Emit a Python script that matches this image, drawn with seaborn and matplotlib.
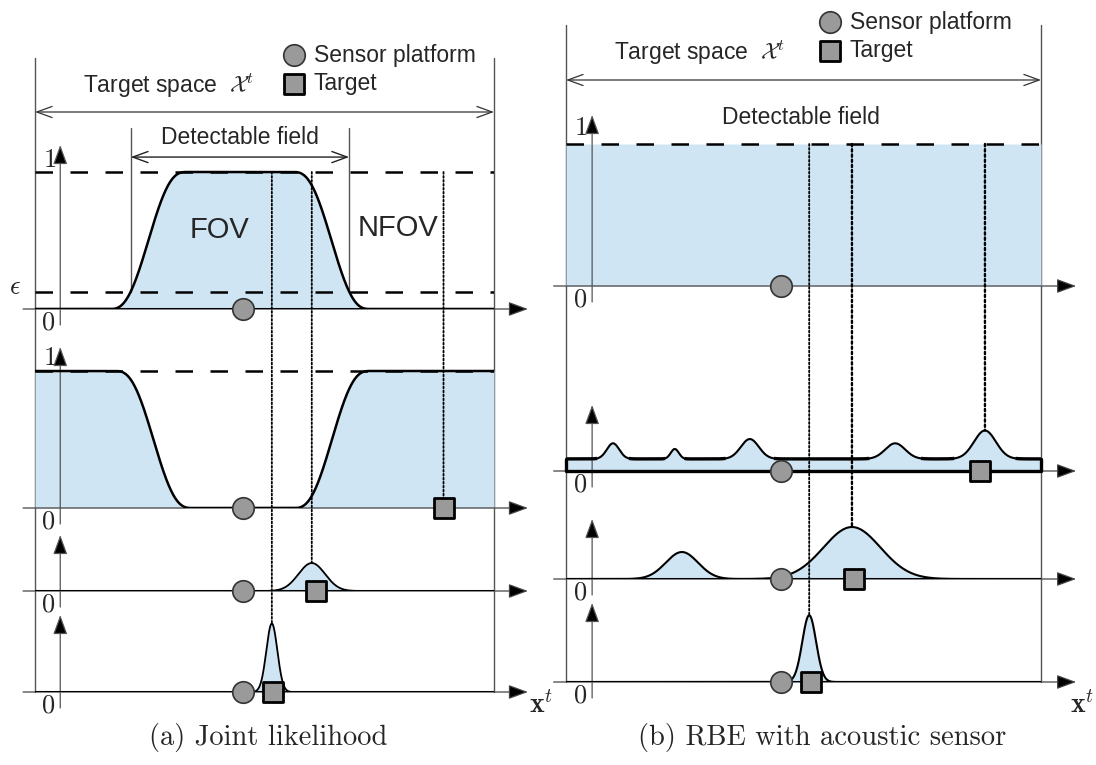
import numpy as np
import matplotlib
matplotlib.use("Agg")
import matplotlib.pyplot as plt
from matplotlib.patches import ConnectionPatch
import seaborn as sns

# ---------------- data (target space normalised to 0..100) ----------------
sensor_x = 45.3
# (a) joint likelihood
fov_edges = [16.3, 33.1, 56.2, 73.0]      # rise start, rise end, fall start, fall end
nfov_edges = [17.4, 34.2, 56.4, 73.0]
eps_level = 0.124
a_targets = [89.0, 61.2, 51.8]            # target squares, rows 2..4
a_peak_center = [60.3, 51.6]
a_peak_height = [0.204, 0.50]
a_peak_width = [2.9, 1.2]
# (b) RBE with acoustic sensor
b_prior = 1.0
b_base = 0.085
b_bump_center = [9.9, 22.9, 38.7, 69.3, 88.2]
b_bump_height = [0.11, 0.07, 0.14, 0.11, 0.20]
b_bump_width = [1.3, 0.85, 1.9, 2.1, 2.3]
b_mid_center = [24.4, 60.2]
b_mid_height = [0.19, 0.366]
b_mid_width = [3.4, 6.0]
b_post_center = [51.2]
b_post_height = [0.47]
b_post_width = [1.45]
b_targets = [87.2, 60.6, 51.6]

captions = ["(a) Joint likelihood", "(b) RBE with acoustic sensor"]

# ---------------- style ----------------
sns.set_theme(style="white")
plt.rcParams["font.family"] = ["Liberation Sans", "DejaVu Sans"]
plt.rcParams["mathtext.fontset"] = "cm"

W, H = 1096, 765
fig = plt.figure(figsize=(W / 100, H / 100), dpi=100)
FILL = "#d0e5f3"
GRAY_M = "#9a9a9a"
SERIF = ["cmr10", "DejaVu Serif"]
SANS_FS = 16.5

x = np.linspace(0, 100, 2001)


def smooth(xv, a, b):
    t = np.clip((xv - a) / (b - a), 0, 1)
    return t * t * t * (t * (6 * t - 15) + 10)


def bumps(xv, cs, hs, ws):
    out = np.zeros_like(xv)
    for c, h, w in zip(cs, hs, ws):
        out += h * np.exp(-0.5 * ((xv - c) / w) ** 2)
    return out


# overlay in pixel coordinates for frame decorations
ov = fig.add_axes([0, 0, 1, 1])
ov.set_xlim(0, W)
ov.set_ylim(H, 0)
ov.axis("off")


def make_ax(bl, br, y0, tip, scale):
    ax = fig.add_axes([bl / W, 1 - y0 / H, (br - bl) / W, (y0 - tip) / H])
    ax.set_xlim(0, 100)
    ax.set_ylim(0, (y0 - tip) / scale)
    ax.axis("off")
    ax.patch.set_visible(False)
    ax._scale = scale
    return ax


def axis_arrows(ax, zero_label=True, one_label=None):
    top = ax.get_ylim()[1]
    s = ax._scale
    ax.annotate("", xy=(107.4, 0), xytext=(-2.6, 0),
                arrowprops=dict(arrowstyle="-|>,head_length=0.6,head_width=0.22",
                                mutation_scale=20, lw=0.9, ec="#444", fc="black",
                                shrinkA=0, shrinkB=0),
                annotation_clip=False, zorder=1.5)
    ax.annotate("", xy=(5.5, top), xytext=(5.5, -16 / s),
                arrowprops=dict(arrowstyle="-|>,head_length=0.6,head_width=0.22",
                                mutation_scale=20, lw=0.9, ec="#555", fc="black",
                                shrinkA=0, shrinkB=0),
                annotation_clip=False, zorder=1.6)
    if zero_label:
        ax.text(3.0, -14 / s, "0", fontsize=19, family=SERIF, ha="center",
                va="center", clip_on=False)
    if one_label is not None:
        ax.text(3.3, one_label, "1", fontsize=19, family=SERIF, ha="center",
                va="center", clip_on=False, zorder=1.4)


def curve(ax, y, lw=1.6, base=0.0):
    ax.fill_between(x, base, y, color=FILL, lw=0, zorder=0.5)
    sns.lineplot(x=x, y=y, ax=ax, color="black", lw=lw, zorder=2)


def markers(ax, tx=None):
    sns.scatterplot(x=[sensor_x], y=[0], ax=ax, marker="o", s=240, color=GRAY_M,
                    edgecolor="#333333", linewidth=1.2, zorder=5, clip_on=False)
    if tx is not None:
        sns.scatterplot(x=[tx], y=[0], ax=ax, marker="s", s=200, color=GRAY_M,
                        edgecolor="black", linewidth=2.0, zorder=6, clip_on=False)


def thick_axis(ax):
    ax.plot([0, 100], [0, 0], color="black", lw=2.2, zorder=2.2,
            solid_capstyle="butt")


DASH = (0, (7, 7))
DOT = (0, (1, 1.2))

# ======================= panel (a) =======================
L, R = 35, 494
aL1 = make_ax(L, R, 309, 145, 137)
aL2 = make_ax(L, R, 508, 347, 137)
aL3 = make_ax(L, R, 591, 535, 137)
aL4 = make_ax(L, R, 692, 615, 137)

fov = smooth(x, fov_edges[0], fov_edges[1]) * (1 - smooth(x, fov_edges[2], fov_edges[3]))
nfov = 1 - smooth(x, nfov_edges[0], nfov_edges[1]) + smooth(x, nfov_edges[2], nfov_edges[3])
post_a = [bumps(x, [c], [h], [w]) for c, h, w in zip(a_peak_center, a_peak_height, a_peak_width)]

# row 1: FOV
for lvl in (1.0, eps_level):
    aL1.plot([0, 100], [lvl, lvl], color="black", lw=1.8, ls=DASH, zorder=1.8)
curve(aL1, fov, lw=1.8)
thick_axis(aL1)
axis_arrows(aL1, one_label=1.09)
aL1.text(-4.4, 0.16, r"$\epsilon$", fontsize=19, ha="center", va="center", clip_on=False)
aL1.text(40.3, 0.58, "FOV", fontsize=21, ha="center", va="center")
aL1.text(79.0, 0.59, "NFOV", fontsize=21, ha="center", va="center")
# detectable field from eps crossings
up = x[np.argmax(fov >= eps_level)]
down = x[len(x) - 1 - np.argmax(fov[::-1] >= eps_level)]
for xe in (up, down):
    aL1.plot([xe, xe], [eps_level, 1.32], color="#555", lw=1.0, clip_on=False, zorder=1.2)
aL1.annotate("", xy=(down, 1.109), xytext=(up, 1.109),
             arrowprops=dict(arrowstyle="<->,head_length=0.55,head_width=0.2",
                             mutation_scale=20, lw=1.0, color="#222", shrinkA=0, shrinkB=0),
             annotation_clip=False)
aL1.text((up + down) / 2, 1.255, "Detectable field", fontsize=SANS_FS, ha="center",
         va="center", clip_on=False)
markers(aL1)

# row 2: NFOV
aL2.plot([0, 100], [1, 1], color="black", lw=1.8, ls=DASH, zorder=1.8)
curve(aL2, nfov, lw=1.8)
axis_arrows(aL2, one_label=1.095)
markers(aL2, a_targets[0])

# rows 3, 4
curve(aL3, post_a[0], lw=1.3)
thick_axis(aL3)
axis_arrows(aL3)
markers(aL3, a_targets[1])

curve(aL4, post_a[1], lw=1.3)
thick_axis(aL4)
axis_arrows(aL4)
markers(aL4, a_targets[2])

# ======================= panel (b) =======================
L2_, R2_ = 566, 1041
bR1 = make_ax(L2_, R2_, 286, 115, 142)
bR2 = make_ax(L2_, R2_, 471, 405, 142)
bR3 = make_ax(L2_, R2_, 579, 519, 142)
bR4 = make_ax(L2_, R2_, 682, 603, 142)

prior = np.full_like(x, b_prior)
bR1.fill_between(x, 0, prior, color=FILL, lw=0, zorder=0.5)
bR1.plot([0, 100], [1, 1], color="black", lw=1.8, ls=DASH, zorder=1.8)
axis_arrows(bR1, one_label=1.11)
bR1.text(49.5, 1.19, "Detectable field", fontsize=SANS_FS, ha="center", va="center",
         clip_on=False)
markers(bR1)

bump_part = bumps(x, b_bump_center, b_bump_height, b_bump_width)
lik = b_base + bump_part
curve(bR2, lik, lw=1.5)
flat = np.where(bump_part < 0.004, lik, np.nan)
bR2.plot(x, flat, color="black", lw=2.4, zorder=2.1, solid_capstyle="butt")
bR2.plot([0, 0, 100, 100], [b_base, 0, 0, b_base], color="black", lw=2.4, zorder=2.2,
         clip_on=False)
axis_arrows(bR2)
markers(bR2, b_targets[0])

mid = bumps(x, b_mid_center, b_mid_height, b_mid_width)
curve(bR3, mid, lw=1.5)
thick_axis(bR3)
axis_arrows(bR3)
markers(bR3, b_targets[1])

post_b = bumps(x, b_post_center, b_post_height, b_post_width)
curve(bR4, post_b, lw=1.5)
thick_axis(bR4)
axis_arrows(bR4)
markers(bR4, b_targets[2])

# ---------------- dotted connectors ----------------
def connect(ax_top, ax_bot, xv, yb, lw=1.3):
    con = ConnectionPatch(xyA=(xv, 1.0), coordsA="data", axesA=ax_top,
                          xyB=(xv, yb), coordsB="data", axesB=ax_bot,
                          color="black", lw=lw, ls=DOT, zorder=3)
    fig.add_artist(con)

connect(aL1, aL4, a_peak_center[1], max(post_a[1]))
connect(aL1, aL3, a_peak_center[0], max(post_a[0]))
connect(aL1, aL2, a_targets[0], 9.5 / 137)
connect(bR1, bR4, b_post_center[0], max(post_b))
connect(bR1, bR3, b_mid_center[1], max(mid), lw=1.7)
connect(bR1, bR2, b_bump_center[4], max(lik), lw=1.7)

# ---------------- frame decorations ----------------
for (bl, br, top, bot) in [(L, R, 58, 692), (L2_, R2_, 25, 682)]:
    for xb in (bl, br):
        ov.plot([xb, xb], [top, bot], color="#555", lw=1.0)

for (bl, br, ya, ty, tx) in [(L, R, 112, 86, 83), (L2_, R2_, 80, 53, 614)]:
    ov.annotate("", xy=(br, ya), xytext=(bl, ya),
                arrowprops=dict(arrowstyle="<->,head_length=0.55,head_width=0.2",
                                mutation_scale=20, lw=0.9, color="#333",
                                shrinkA=0, shrinkB=0))
    ov.text(tx, ty, r"Target space  $\mathcal{X}^t$", fontsize=SANS_FS, ha="left",
            va="center")

for (cx, cy) in [(294, 55), (830, 22)]:
    ov.scatter([cx], [cy], marker="o", s=240, color=GRAY_M, edgecolor="#333", lw=1.2, zorder=5)
    ov.scatter([cx], [cy + 29], marker="s", s=200, color=GRAY_M, edgecolor="black", lw=2.0, zorder=5)
    ov.text(cx + 20, cy, "Sensor platform", fontsize=SANS_FS, ha="left", va="center")
    ov.text(cx + 20, cy + 28, "Target", fontsize=SANS_FS, ha="left", va="center")

for xl in (541, 1082):
    ov.text(xl, 706, r"$\mathbf{x}^t$", fontsize=20, ha="center", va="center")

ov.text(268, 738, captions[0], fontsize=20.5, family=SERIF, ha="center", va="center")
ov.text(822, 738, captions[1], fontsize=20.5, family=SERIF, ha="center", va="center")

fig.savefig("out.png", dpi=100)
